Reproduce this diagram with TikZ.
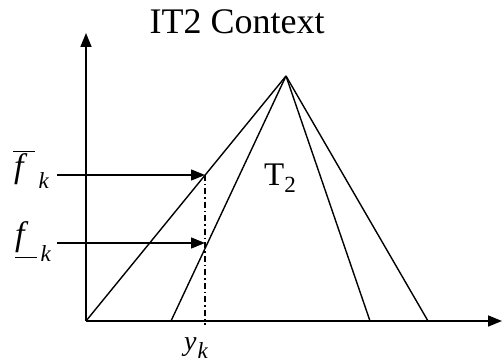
\documentclass[tikz,border=0pt]{standalone}
\usepackage{fontspec}
\setmainfont{Liberation Serif}
\usetikzlibrary{arrows.meta,positioning}
\newcommand{\fbarup}{\rlap{\hspace{-1pt}\rule[26pt]{22pt}{1.3pt}}\textit{f}}
\newcommand{\fbarlo}{\rlap{\hspace{0pt}\rule[-12pt]{22pt}{1.3pt}}\textit{f}}
\newcommand{\subk}[1]{\raisebox{#1}{\fontsize{23}{25}\selectfont\textit{k}}}

\begin{document}
\begin{tikzpicture}[x=1pt,y=1pt,>={Triangle[length=14pt,width=11pt]}]
\tikzstyle{axis}=[line width=1.6pt,->]
\tikzstyle{mf}=[line width=1.4pt]
\tikzstyle{lab}=[inner sep=0pt,anchor=base west,font=\fontsize{34}{38}\selectfont]
\useasboundingbox (0,0) rectangle (502,363);
% axes
\coordinate (O) at (86,42);
\coordinate (ytop) at (86,330);
\coordinate (xend) at (502,42);
\draw[axis] (O) -- (ytop);
\draw[axis] (O) -- (xend);
% triangles
\coordinate (apex) at (286,287);
\coordinate (bl) at (171,42);
\coordinate (br) at (370,42);
\coordinate (bro) at (428,42);
\foreach \b in {O,bl,br,bro}{\draw[mf] (\b) -- (apex);}
% firing levels
\coordinate (yk) at (205,38);
\coordinate (up) at (205,188);
\coordinate (lo) at (205,120);
\coordinate (ups) at (57,188);
\coordinate (los) at (57,120);
\draw[line width=1.2pt,dash pattern=on 6pt off 3pt on 1.5pt off 3pt] (up) -- (yk);
\draw[->,line width=1.4pt] (ups) -- (up);
\draw[->,line width=1.4pt] (los) -- (lo);
% labels
\node[inner sep=0pt,font=\fontsize{36}{40}\selectfont] (title) at (237,341) {IT2 Context};
\node[lab,font=\fontsize{33}{36}\selectfont] (T2) at (264,177) {T\textsubscript{2}};
\node[lab] (fup) at (14,185) {\fbarup\hspace{11pt}\subk{-11pt}};
\node[lab] (flo) at (15,117) {\fbarlo\hspace{12pt}\subk{-16pt}};
\node[lab,font=\fontsize{28}{32}\selectfont] (ylab) at (184,12) {\textit{y}\hspace{1pt}\subk{-8pt}};
\end{tikzpicture}
\end{document}
